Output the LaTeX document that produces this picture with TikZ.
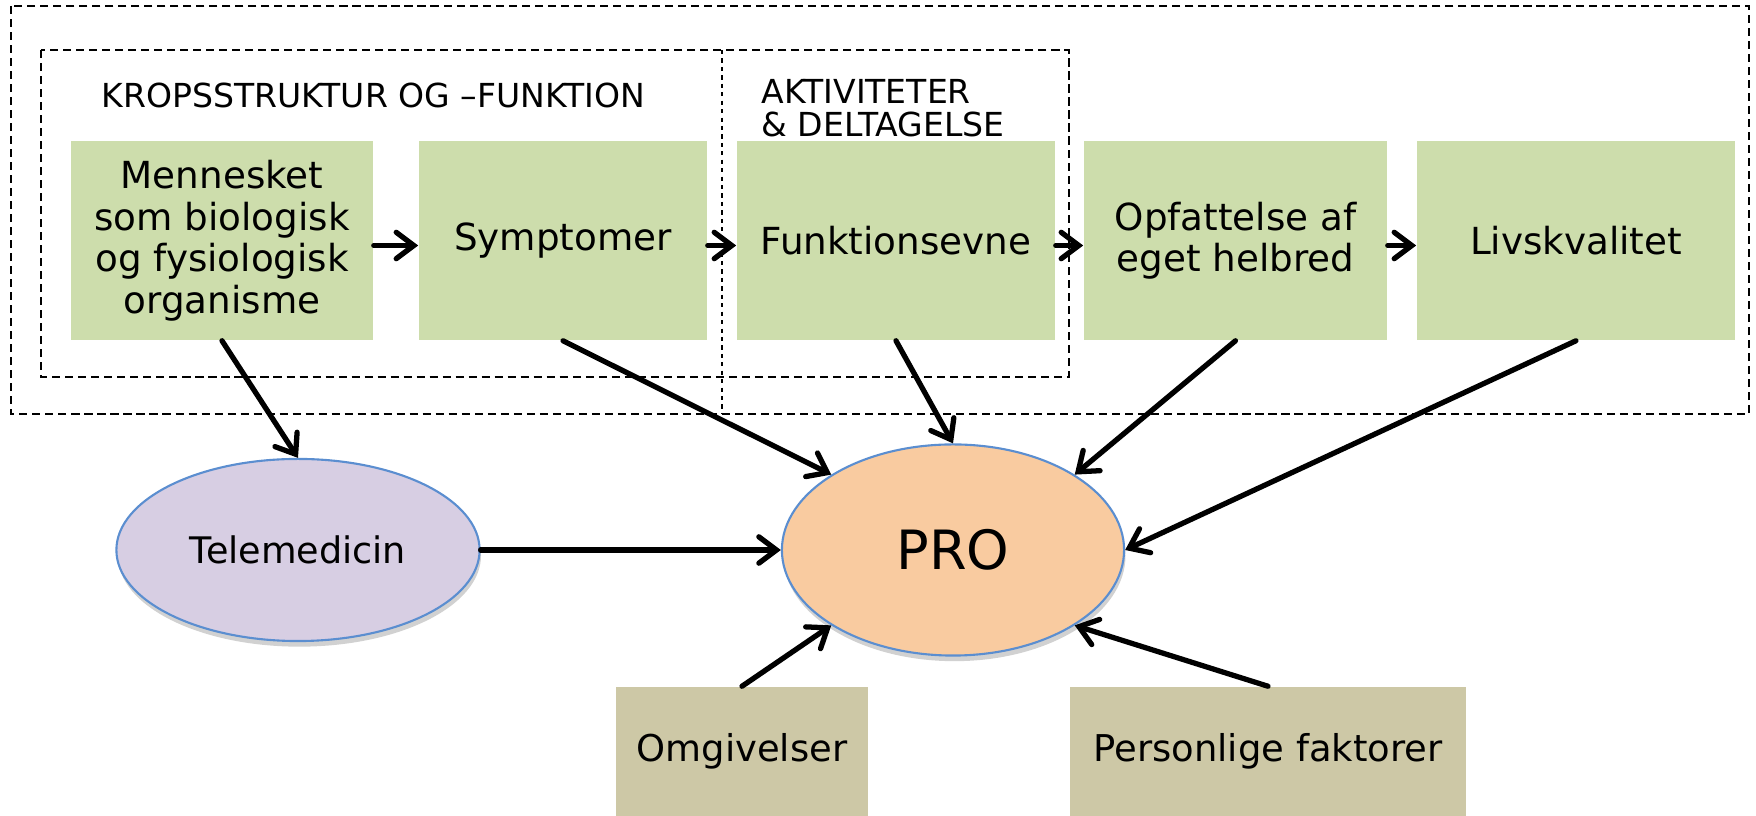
\documentclass[tikz,border=0pt]{standalone}
\usepackage{fontspec}
\setmainfont{DejaVu Sans}
\usetikzlibrary{arrows.meta,shapes.geometric,shadows}
\definecolor{boxgreen}{HTML}{CDDDAC}
\definecolor{boxtan}{HTML}{CDC8A6}
\definecolor{lav}{HTML}{D7CEE3}
\definecolor{peach}{HTML}{F9CBA0}
\definecolor{edgeblue}{HTML}{5B8ED0}
\begin{document}
\begin{tikzpicture}[x=0.01cm,y=-0.01cm,
  gbox/.style={fill=boxgreen, minimum height=1.99cm, inner sep=0pt, align=center,
    font=\fontsize{10.6}{11.8}\selectfont},
  tbox/.style={fill=boxtan, minimum height=1.29cm, inner sep=0pt, align=center,
    font=\fontsize{10.5}{11.8}\selectfont},
  ell/.style={ellipse, draw=edgeblue, line width=0.6pt, inner sep=0pt,
    drop shadow={shadow xshift=0.4pt, shadow yshift=-1.6pt, opacity=0.18, fill=black}},
  arr/.style={line width=1.5pt, line cap=round, -{Straight Barb[length=5pt,width=7.5pt,line cap=round]}},
  dash box/.style={line width=0.6pt, dash pattern=on 2.3pt off 1.4pt},
  thin dash/.style={line width=0.35pt, dash pattern=on 1.2pt off 1.2pt},
  lbl/.style={inner sep=0pt, anchor=west, font=\fontsize{9.4}{9.4}\selectfont, align=left}]
\useasboundingbox (0,0) rectangle (1756,816);

% dashed frames
\draw[dash box] (11,6) rectangle (1749,414);
\draw[dash box] (41,50) rectangle (1069,377);
\coordinate (vt) at (722,50);
\coordinate (vb) at (722,414);
\draw[thin dash] (vt) -- (vb);

% labels
\node[lbl] (l1) at (101,95) {KROPSSTRUKTUR OG –FUNKTION};
\node[lbl] (l2) at (761,108) {AKTIVITETER\\\& DELTAGELSE};

% green boxes
\node[gbox, minimum width=3.02cm] (b1) at (222,240.5) {Mennesket\\som biologisk\\og fysiologisk\\organisme};
\node[gbox, minimum width=2.88cm] (b2) at (563,240.5) {Symptomer};
\node[gbox, minimum width=3.18cm] (b3) at (896,240.5) {Funktionsevne};
\node[gbox, minimum width=3.03cm] (b4) at (1235.5,240.5) {Opfattelse af\\eget helbred};
\node[gbox, minimum width=3.18cm] (b5) at (1576,240.5) {Livskvalitet};

% ellipses
\node[ell, fill=lav, minimum width=3.63cm, minimum height=1.82cm,
  font=\fontsize{10.4}{12}\selectfont] (tm) at (298,550) {Telemedicin};
\node[ell, fill=peach, minimum width=3.42cm, minimum height=2.11cm,
  font=\fontsize{15.4}{18}\selectfont] (pro) at (953,550) {PRO};

% bottom boxes
\node[tbox, minimum width=2.52cm] (om) at (742,751.5) {Omgivelser};
\node[tbox, minimum width=3.96cm] (pf) at (1268,751.5) {Personlige faktorer};

% arrows between boxes
\draw[arr] ([yshift=-0.05cm]b1.east) -- ([yshift=-0.05cm]b2.west);
\draw[arr] ([yshift=-0.05cm]b2.east) -- ([yshift=-0.05cm]b3.west);
\draw[arr] ([yshift=-0.05cm]b3.east) -- ([yshift=-0.05cm]b4.west);
\draw[arr] ([yshift=-0.05cm]b4.east) -- ([yshift=-0.05cm]b5.west);

% arrows to ellipses
\draw[arr] (b1.south) -- (tm.north);
\draw[arr] (b2.south) -- (pro.north west);
\draw[arr] (b3.south) -- (pro.north);
\draw[arr] (b4.south) -- (pro.north east);
\draw[arr] (b5.south) -- (pro.east);
\draw[arr] (tm.east) -- (pro.west);
\draw[arr] (om.north) -- (pro.south west);
\draw[arr] (pf.north) -- (pro.south east);
\end{tikzpicture}
\end{document}
